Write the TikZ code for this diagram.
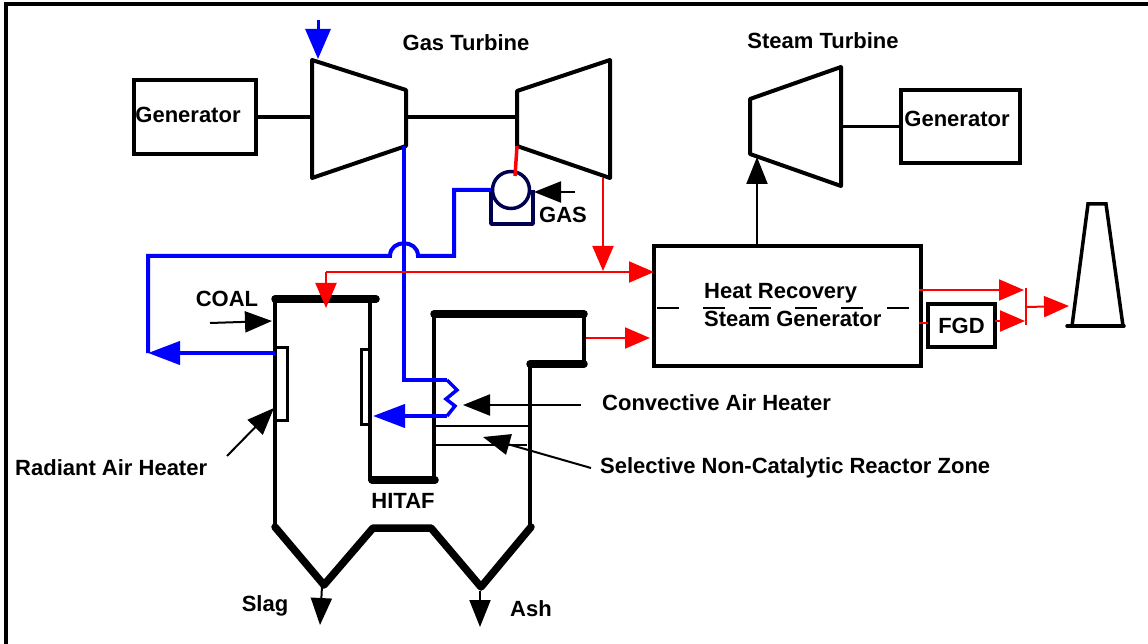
\documentclass[tikz,border=0pt]{standalone}
\usepackage{fontspec}
\setmainfont{Liberation Sans}
\usepackage{xcolor}
\usetikzlibrary{arrows.meta,positioning,calc}

\definecolor{air_blue}{RGB}{0,0,255}
\definecolor{gas_navy}{RGB}{0,0,80}
\definecolor{flue_red}{RGB}{255,0,0}

\begin{document}
\begin{tikzpicture}[
    x=1pt, y=-1pt,
    font=\fontsize{22}{26}\selectfont\bfseries,
    label_txt/.style={inner sep=0pt, align=left},
    box/.style={rectangle, draw, line width=4pt, inner sep=0pt, outer sep=0pt, anchor=north west, align=center},
    machine/.style={draw, line width=4pt, line join=round},
    wall/.style={line width=4pt, line cap=round},
    thick_wall/.style={line width=7.5pt, line cap=round, line join=round},
    shaft/.style={line width=3.5pt},
    thin_line/.style={line width=2pt},
    blue_flow/.style={air_blue, line width=4pt},
    red_flow/.style={flue_red, line width=2pt},
    red_arrow/.style={red_flow, -{Triangle[length=25pt,width=21pt]}},
    black_arrow/.style={thin_line, -{Triangle[length=27pt,width=21pt]}},
    blue_arrow/.style={blue_flow, -{Triangle[length=32pt,width=23pt]}}
]

    \useasboundingbox (0,0) rectangle (1148,644);

    % --- 0. Frame ---
    \draw[line width=4pt] (6,646) -- (6,4) -- (1150,4);

    % --- 1. Boxes ---
    \node[box, minimum width=122pt, minimum height=74pt] (gen_left) at (134,80) {};
    \node[box, minimum width=119pt, minimum height=73pt] (gen_right) at (901,90) {};
    \node[box, minimum width=267pt, minimum height=120pt] (hrsg) at (654,246) {};
    \node[box, minimum width=67pt, minimum height=43pt] (fgd) at (928,304) {FGD};

    % --- 1.5 Labels ---
    \node[label_txt] (gt_lbl) at (466,43) {Gas Turbine};
    \node[label_txt] (st_lbl) at (823,41) {Steam Turbine};
    \node[label_txt] (gen_left_lbl) at (188,115) {Generator};
    \node[label_txt] (gen_right_lbl) at (957,119) {Generator};
    \node[label_txt] (gas_lbl) at (563,215) {GAS};
    \node[label_txt] (coal_lbl) at (227,299) {COAL};
    \node[label_txt, anchor=west] (hrsg_top) at (704,293) {Heat Recovery};
    \node[label_txt, below=26pt of hrsg_top.west, anchor=west] (hrsg_bot) {Steam Generator};
    \node[label_txt, anchor=west] (conv_lbl) at (602,403) {Convective Air Heater};
    \node[label_txt, anchor=west] (ncr_lbl) at (600,468) {Selective Non-Catalytic Reactor Zone};
    \node[label_txt, anchor=west] (rad_lbl) at (15,468) {Radiant Air Heater};
    \node[label_txt] (hitaf_lbl) at (403,501) {HITAF};
    \node[label_txt] (slag_lbl) at (265,606) {Slag};
    \node[label_txt] (ash_lbl) at (531,609) {Ash};

    % --- 2. Machines ---
    \coordinate (comp_nw) at (312,60);
    \coordinate (comp_ne) at (406,90);
    \coordinate (comp_se) at (406,146);
    \coordinate (comp_sw) at (312,178);
    \coordinate (gt_nw) at (517,91);
    \coordinate (gt_ne) at (610,60);
    \coordinate (gt_se) at (610,178);
    \coordinate (gt_sw) at (517,146);
    \coordinate (st_nw) at (750,99);
    \coordinate (st_ne) at (841,67);
    \coordinate (st_se) at (841,186);
    \coordinate (st_sw) at (750,154);

    \draw[machine] (comp_nw) -- (comp_ne) -- (comp_se) -- (comp_sw) -- cycle;
    \draw[machine] (gt_nw) -- (gt_ne) -- (gt_se) -- (gt_sw) -- cycle;
    \draw[machine] (st_nw) -- (st_ne) -- (st_se) -- (st_sw) -- cycle;

    % Combustor
    \node[circle, draw=gas_navy, line width=3.5pt, minimum size=37pt, inner sep=0pt] (comb) at (511,190) {};
    \draw[gas_navy, line width=3.5pt, line join=round] (491,190) -- (491,224) -- (533,224) -- (533,190);

    % Stack
    \draw[wall, line width=3.5pt] (1067,326) -- (1124,326);
    \draw[wall, line width=3.5pt] (1072,326) -- (1088,204) -- (1106,204) -- (1123,326);

    % --- 3. Furnace ---
    \draw[thick_wall] (275,299) -- (376,299);
    \draw[wall] (275,299) -- (275,527);
    \draw[wall] (370,299) -- (370,480);
    \draw[thick_wall] (372,480) -- (435,480);
    \draw[wall] (434,314) -- (434,480);
    \draw[thick_wall] (434,314) -- (584,314);
    \draw[wall] (584,314) -- (584,364);
    \draw[thick_wall] (530,364) -- (584,364);
    \draw[wall] (530,364) -- (530,527);
    \draw[thick_wall] (275,527) -- (324,585) -- (373,528) -- (431,528) -- (481,587) -- (531,527);
    \draw[line width=3pt] (275,347) -- (287,347) -- (287,420) -- (275,420);
    \draw[line width=3pt] (370,349) -- (361,349) -- (361,424) -- (370,424);
    \draw[thin_line] (434,426) -- (530,426);
    \draw[thin_line] (432,445) -- (527,445);

    % --- 4. Connectors ---
    \coordinate (air_top) at (318,20);
    \coordinate (air_tip) at (318,59);
    \coordinate (comp_out) at (404,146);
    \coordinate (heater_in) at (404,380);
    \coordinate (heater_a) at (447,380);
    \coordinate (heater_b) at (457,390);
    \coordinate (heater_c) at (446,399);
    \coordinate (heater_d) at (455,406);
    \coordinate (heater_e) at (447,416);
    \coordinate (rad_in) at (373,416);
    \coordinate (rad_out) at (275,353);
    \coordinate (duct_corner) at (148,353);
    \coordinate (duct_top) at (148,256);
    \coordinate (jump_l) at (390,256);
    \coordinate (jump_r) at (418,256);
    \coordinate (riser_b) at (454,256);
    \coordinate (red_t) at (517,146);
    \coordinate (red_b) at (515,176);
    \coordinate (exh_t) at (603,178);
    \coordinate (exh_b) at (603,271);
    \coordinate (flue_l) at (326,272);
    \coordinate (flue_tip) at (326,308);
    \coordinate (flue_r) at ($(hrsg.north west)+(0,26)$);
    \coordinate (duct_out) at (586,338);
    \coordinate (duct_in) at (650,338);

    % Air side
    \draw[air_blue, line width=3pt, -{Triangle[length=30pt,width=25pt]}] (air_top) -- (air_tip);
    \draw[blue_flow] (comp_out) -- (heater_in) -- (heater_a);
    \draw[blue_flow, line width=3.5pt] (heater_a) -- (heater_b) -- (heater_c) -- (heater_d) -- (heater_e);
    \draw[blue_arrow] (heater_e) -- (rad_in);
    \draw[blue_arrow] (rad_out) -- (duct_corner);
    \draw[blue_flow] (duct_corner) -- (duct_top) -- (jump_l)
        .. controls +(0,-17) and +(0,-17) .. (jump_r) -- (riser_b) |- (comb.west);

    % Gas side
    \draw[flue_red, line width=3.5pt] (red_t) -- (red_b);
    \draw[red_arrow] (exh_t) -- (exh_b);
    \draw[red_arrow] (flue_l) -- (flue_r);
    \draw[red_arrow] (flue_l) -- (flue_tip);
    \draw[red_arrow] (duct_out) -- (duct_in);

    % Back end
    \coordinate (hrsg_out) at (919,290);
    \coordinate (merge_in) at (1024,290);
    \coordinate (merge_t) at (1026,288);
    \coordinate (merge_b) at (1026,325);
    \coordinate (merge_m) at (1026,307);
    \coordinate (stack_in) at (1069,306);
    \draw[red_arrow] (hrsg_out) -- (merge_in);
    \draw[red_flow] (919,323) -- (fgd.west |- 0,323);
    \draw[red_arrow] (fgd.east |- 0,321) -- (1025,321);
    \draw[red_flow] (merge_t) -- (merge_b);
    \draw[red_arrow] (merge_m) -- (stack_in);

    % HRSG centre line
    \draw[line width=1.5pt, dash pattern=on 22pt off 24pt] (657,308) -- (918,308);

    % Steam / solids / pointers
    \coordinate (st_tip) at (757,157);
    \draw[black_arrow] (hrsg.north west -| st_tip) -- (st_tip);
    \draw[shaft] (gen_left.east) -- (comp_nw |- gen_left.east);
    \draw[shaft] (comp_ne |- gen_left.east) -- (gt_nw |- gen_left.east);
    \draw[shaft] (st_ne |- gen_right.west) -- (gen_right.west);

    \coordinate (gas_from) at (575,192);
    \coordinate (gas_to) at (534,192);
    \draw[black_arrow] (gas_from) -- (gas_to);
    \coordinate (coal_from) at (210,323);
    \coordinate (coal_to) at (272,321);
    \draw[black_arrow] (coal_from) -- (coal_to);
    \coordinate (conv_from) at (581,405);
    \coordinate (conv_to) at (463,405);
    \draw[black_arrow] (conv_from) -- (conv_to);
    \coordinate (ncr_from) at (591,468);
    \coordinate (ncr_to) at (483,437);
    \draw[black_arrow] (ncr_from) -- (ncr_to);
    \coordinate (rad_from) at (227,456);
    \coordinate (rad_to) at (274,408);
    \draw[black_arrow] (rad_from) -- (rad_to);
    \coordinate (slag_from) at (322,586);
    \coordinate (slag_to) at (320,625);
    \draw[black_arrow] (slag_from) -- (slag_to);
    \coordinate (ash_from) at (480,591);
    \coordinate (ash_to) at (480,627);
    \draw[black_arrow] (ash_from) -- (ash_to);

\end{tikzpicture}
\end{document}
